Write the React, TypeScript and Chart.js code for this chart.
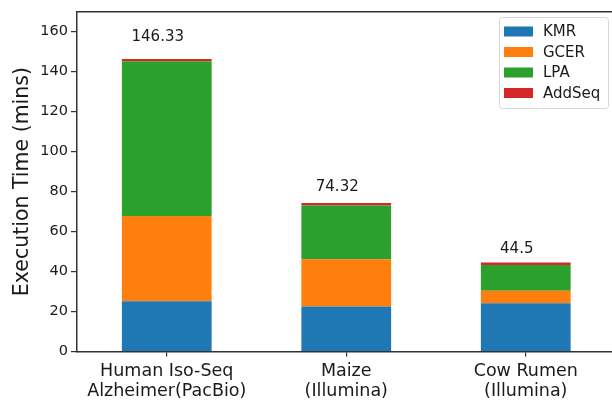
import React, { useEffect, useRef } from "react";
import { Chart, registerables } from "chart.js";

Chart.register(...registerables);

// Workload categories (two-line tick labels)
const categories: string[][] = [
  ["Human Iso-Seq", "Alzheimer(PacBio)"],
  ["Maize", "(Illumina)"],
  ["Cow Rumen", "(Illumina)"],
];

// Per-stage execution time in minutes
const kmr = [25.1, 22.5, 24.2];
const gcer = [42.7, 23.6, 6.2];
const lpa = [77.4, 27.0, 12.9];
const addSeq = [1.13, 1.22, 1.2];

const seriesNames = ["KMR", "GCER", "LPA", "AddSeq"];
const seriesColors = ["#1f77b4", "#ff7f0e", "#2ca02c", "#d62728"];

const yTicks = [0, 20, 40, 60, 80, 100, 120, 140, 160];
const yMax = 170;

const FONT = "'DejaVu Sans', Verdana, sans-serif";
const SPINE = "#333333";
const TEXT = "#1a1a1a";

// Draws the top spine, the stack totals and the in-plot legend.
const decorations = {
  id: "decorations",
  afterDatasetsDraw(chart: any) {
    const { ctx, chartArea, scales } = chart;
    const x = scales.x;
    const y = scales.y;

    ctx.save();
    // top spine
    ctx.strokeStyle = SPINE;
    ctx.lineWidth = 1.5;
    ctx.beginPath();
    ctx.moveTo(chartArea.left, chartArea.top);
    ctx.lineTo(chartArea.right + 2, chartArea.top);
    ctx.stroke();

    // totals above each stack
    ctx.fillStyle = TEXT;
    ctx.font = `15px ${FONT}`;
    ctx.textAlign = "center";
    ctx.textBaseline = "alphabetic";
    categories.forEach((_, i) => {
      const total = kmr[i] + gcer[i] + lpa[i] + addSeq[i];
      const label = parseFloat(total.toFixed(2)).toString();
      const px = x.getPixelForValue(i) - 9;
      const py = y.getPixelForValue(total * 1.04 + 3);
      ctx.fillText(label, px, py);
    });

    // legend box in the upper-right corner
    const boxL = 499;
    const boxT = 17;
    const boxW = 109;
    const boxH = 91;
    ctx.fillStyle = "rgba(255,255,255,0.85)";
    ctx.strokeStyle = "#d6d6d6";
    ctx.lineWidth = 1;
    ctx.beginPath();
    (ctx as any).roundRect(boxL + 0.5, boxT + 0.5, boxW, boxH, 3);
    ctx.fill();
    ctx.stroke();

    ctx.font = `15px ${FONT}`;
    ctx.textAlign = "left";
    ctx.textBaseline = "middle";
    chart.data.datasets.forEach((ds: any, k: number) => {
      const cy = boxT + 14.5 + k * 20.5;
      ctx.fillStyle = ds.backgroundColor;
      ctx.fillRect(boxL + 5, cy - 5, 29, 10);
      ctx.fillStyle = TEXT;
      ctx.fillText(ds.label, boxL + 44, cy + 1);
    });
    ctx.restore();
  },
};

export default function App() {
  const canvasRef = useRef<HTMLCanvasElement | null>(null);

  useEffect(() => {
    const canvas = canvasRef.current;
    if (!canvas) return;
    const seriesValues = [kmr, gcer, lpa, addSeq];

    const chart = new Chart(canvas, {
      type: "bar",
      data: {
        labels: categories as any,
        datasets: seriesNames.map((name, k) => ({
          label: name,
          data: seriesValues[k],
          backgroundColor: seriesColors[k],
          borderWidth: 0,
          barPercentage: 0.5,
          categoryPercentage: 1.0,
        })),
      },
      options: {
        responsive: false,
        animation: false,
        devicePixelRatio: 1,
        layout: { padding: { top: 10, right: 4.5, bottom: 0, left: 0 } },
        plugins: {
          legend: { display: false },
          tooltip: { enabled: false },
        },
        scales: {
          x: {
            stacked: true,
            offset: true,
            grid: {
              display: true,
              offset: false,
              drawOnChartArea: false,
              drawTicks: true,
              tickLength: 5,
              color: SPINE,
              lineWidth: 1.2,
            },
            border: { display: true, color: SPINE, width: 1.5 },
            ticks: {
              color: TEXT,
              font: { family: FONT, size: 17.5, lineHeight: 1.15 },
              padding: 5,
              maxRotation: 0,
              autoSkip: false,
            },
            afterFit(scale: any) {
              scale.height = 50.5;
            },
          },
          y: {
            stacked: true,
            min: 0,
            max: yMax,
            afterBuildTicks(scale: any) {
              scale.ticks = yTicks.map((v) => ({ value: v }));
            },
            grid: {
              display: true,
              drawOnChartArea: false,
              drawTicks: true,
              tickLength: 6,
              color: SPINE,
              lineWidth: 1.2,
            },
            border: { display: true, color: SPINE, width: 1.5 },
            ticks: {
              color: TEXT,
              font: { family: FONT, size: 14.5 },
              padding: 3,
            },
            title: {
              display: true,
              text: "Execution Time (mins)",
              color: TEXT,
              font: { family: FONT, size: 20.5 },
              padding: { top: 10, bottom: 0 },
            },
            afterFit(scale: any) {
              scale.width = 77;
            },
          },
        },
      },
      plugins: [decorations],
    });

    return () => chart.destroy();
  }, []);

  return (
    <div
      style={{
        position: "fixed",
        left: 0,
        top: 0,
        width: 612,
        height: 402,
        overflow: "hidden",
        background: "#ffffff",
      }}
    >
      <canvas
        ref={canvasRef}
        width={620}
        height={402}
        style={{ width: 620, height: 402, display: "block" }}
      />
    </div>
  );
}
